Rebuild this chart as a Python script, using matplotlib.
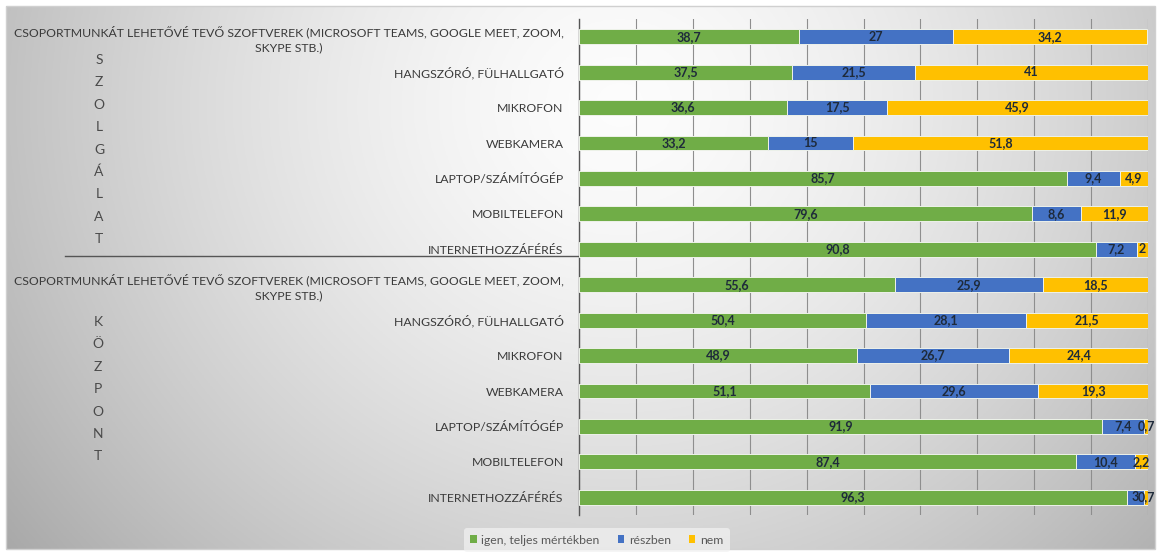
import numpy as np
import matplotlib
matplotlib.use("Agg")
import matplotlib.pyplot as plt
import matplotlib.transforms as mtransforms
from matplotlib.patches import Rectangle, Patch

plt.rcParams['font.family'] = ['Lato', 'DejaVu Sans']

items = [
    "CSOPORTMUNKÁT LEHETŐVÉ TEVŐ SZOFTVEREK (MICROSOFT TEAMS, GOOGLE MEET, ZOOM,\nSKYPE STB.)",
    "HANGSZÓRÓ, FÜLHALLGATÓ",
    "MIKROFON",
    "WEBKAMERA",
    "LAPTOP/SZÁMÍTÓGÉP",
    "MOBILTELEFON",
    "INTERNETHOZZÁFÉRÉS",
]
groups = ["SZOLGÁLAT", "KÖZPONT"]
series_names = ["igen, teljes mértékben", "részben", "nem"]

szolgalat_igen = [38.7, 37.5, 36.6, 33.2, 85.7, 79.6, 90.8]
szolgalat_reszben = [27, 21.5, 17.5, 15, 9.4, 8.6, 7.2]
szolgalat_nem = [34.2, 41, 45.9, 51.8, 4.9, 11.9, 2]

kozpont_igen = [55.6, 50.4, 48.9, 51.1, 91.9, 87.4, 96.3]
kozpont_reszben = [25.9, 28.1, 26.7, 29.6, 7.4, 10.4, 3]
kozpont_nem = [18.5, 21.5, 24.4, 19.3, 0.7, 2.2, 0.7]

colors = ["#70AD47", "#4472C4", "#FFC000"]

W, H = 1160, 553
fig = plt.figure(figsize=(W / 100, H / 100), dpi=100)
fig.patch.set_facecolor("white")

# background gradient inside frame
bg = fig.add_axes([0, 0, 1, 1], zorder=-10)
bg.set_xlim(0, W)
bg.set_ylim(H, 0)
bg.axis("off")
gx, gy = np.meshgrid(np.linspace(0, W, 400), np.linspace(0, H, 200))
d = np.sqrt(((gx - 620) / 620) ** 2 + ((gy - 100) / 580) ** 2)
v = np.clip(0.99 - 0.23 * d ** 1.5, 0, 1)
img = np.dstack([v, v, v])
bg.imshow(img, extent=(6, W - 5, H - 4, 6), aspect="auto", zorder=0)
bg.add_patch(Rectangle((6, 6), W - 11, H - 10, fill=False, edgecolor="#D0D0D0", lw=1))

left_px, right_px, top_px, bot_px = 579, 1148, 19, 515
ax = fig.add_axes([left_px / W, 1 - bot_px / H, (right_px - left_px) / W, (bot_px - top_px) / H])
ax.set_facecolor("none")

igen = szolgalat_igen + kozpont_igen
reszben = szolgalat_reszben + kozpont_reszben
nem = szolgalat_nem + kozpont_nem
labels = items + items
y = np.arange(len(labels))

def fmt(v):
    return ("%g" % v).replace(".", ",")

left = np.zeros(len(y))
for vals, c in zip([igen, reszben, nem], colors):
    cont = ax.barh(y, vals, left=left, height=0.42, color=c, edgecolor="#EEF2EA", linewidth=0.7, zorder=3)
    ax.bar_label(cont, labels=[fmt(v) for v in vals], label_type="center",
                 fontsize=9, fontweight="bold", color="#1E2A3A", zorder=4)
    left = left + np.array(vals)

ax.set_xlim(0, 100)
ax.set_ylim(len(y) - 0.5, -0.5)
ax.set_xticks(np.arange(0, 101, 10))
ax.tick_params(axis="x", length=0, labelbottom=False)
ax.grid(axis="x", color="#8E8E8E", linewidth=0.8, zorder=0)
ax.set_yticks(y)
ax.set_yticklabels(labels, fontsize=8.8, color="#3A3A3A")
for t in ax.get_yticklabels():
    t.set_multialignment("center")
    t.set_linespacing(1.4)
ax.tick_params(axis="y", length=0, pad=11)
for s in ["top", "right", "bottom"]:
    ax.spines[s].set_visible(False)
ax.spines["left"].set_color("#555555")
ax.spines["left"].set_linewidth(1.0)

# group separator line
trans = mtransforms.blended_transform_factory(ax.transAxes, ax.transData)
x0 = (65 - left_px) / (right_px - left_px)
ax.plot([x0, 0], [6.2, 6.2], transform=trans, color="#555555", lw=1.0, clip_on=False)

# vertical group letters
for g, (start, xc) in zip(groups, [(60, 99), (322, 98)]):
    for i, ch in enumerate(g):
        bg.text(xc, start + i * 22.4, ch, ha="center", va="center", fontsize=10, color="#4A4A4A")

handles = [Patch(facecolor=c, edgecolor="none") for c in colors]
leg = fig.legend(handles, series_names, loc="center", bbox_to_anchor=(597 / W, 1 - 540 / H),
                 ncol=3, fontsize=8.8, frameon=True, handlelength=0.5, handleheight=0.6,
                 handletextpad=0.4, columnspacing=1.5, borderpad=0.5)
leg.get_frame().set_facecolor("#F2F2F2")
leg.get_frame().set_edgecolor("none")
leg.get_frame().set_alpha(0.7)
for t in leg.get_texts():
    t.set_color("#595959")

fig.savefig("out.png", dpi=100)
